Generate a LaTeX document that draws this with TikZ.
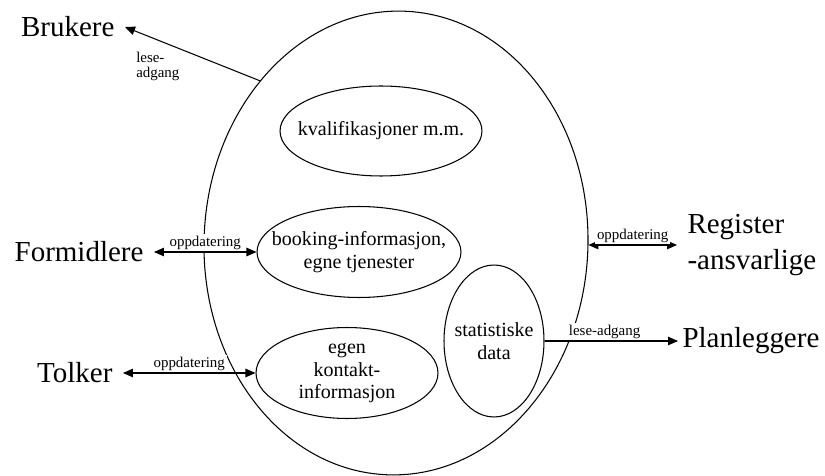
\documentclass[tikz,border=0pt]{standalone}
\usepackage{fontspec}
\setmainfont{Liberation Serif}
\usetikzlibrary{shapes.geometric, arrows.meta}

\begin{document}
\begin{tikzpicture}[x=0.02cm, y=-0.02cm, line width=0.6pt,
    blob/.style={draw, ellipse, inner xsep=-0.35cm, inner ysep=0pt, align=center, font=\fontsize{11.4}{12.8}\selectfont},
    actor/.style={inner xsep=0.2cm, inner ysep=2pt, align=left, font=\fontsize{16.5}{20}\selectfont},
    lbl/.style={fill=white, inner sep=1pt, font=\fontsize{8.5}{8.8}\selectfont},
    tip/.style={-{Triangle[length=0.2cm, width=0.17cm]}},
    dtip/.style={{Triangle[length=0.2cm, width=0.17cm]}-{Triangle[length=0.2cm, width=0.17cm]}}];
    \useasboundingbox (0,0) rectangle (825,476);

    \node[draw, ellipse, inner sep=0pt, minimum width=7.68cm, minimum height=9.28cm, rotate=-2] (base) at (396,243) {};

    \node[blob, minimum width=4.04cm, minimum height=1.8cm] (kval) at (381,131) {kvalifikasjoner m.m.};
    \node[blob, minimum width=4.08cm, minimum height=1.82cm] (booking) at (359,252) {booking-informasjon,\\egne tjenester};
    \node[blob, minimum width=3.64cm, minimum height=1.82cm] (egen) at (347,373) {egen\\kontakt-\\informasjon};
    \node[blob, minimum width=2cm, minimum height=3.04cm] (stat) at (494,341) {statistiske\\data};

    \node[actor, anchor=east] (brukere) at (125,27) {Brukere};
    \node[actor, anchor=east] (formidlere) at (154,252) {Formidlere};
    \node[actor, anchor=east] (tolker) at (123,373) {Tolker};
    \node[actor, anchor=west] (register) at (677,245) {Register\\-ansvarlige};
    \node[actor, anchor=west, inner xsep=0.08cm] (planleggere) at (678,341) {Planleggere};

    \draw[tip] (base.132) -- (brukere.east) node[lbl, pos=0.58, anchor=north east, align=left] {lese-\\adgang};
    \draw[dtip] (formidlere.east) -- (booking.west) node[lbl, midway, above] {oppdatering};
    \draw[dtip] (tolker.east) -- (egen.west) node[lbl, midway, above] {oppdatering};
    \draw[dtip] (base.east |- register.west) -- (register.west) node[lbl, midway, above] {oppdatering};
    \draw[tip] (stat.east) -- (planleggere.west) node[lbl, pos=0.45, above] {lese-adgang};
\end{tikzpicture}
\end{document}
